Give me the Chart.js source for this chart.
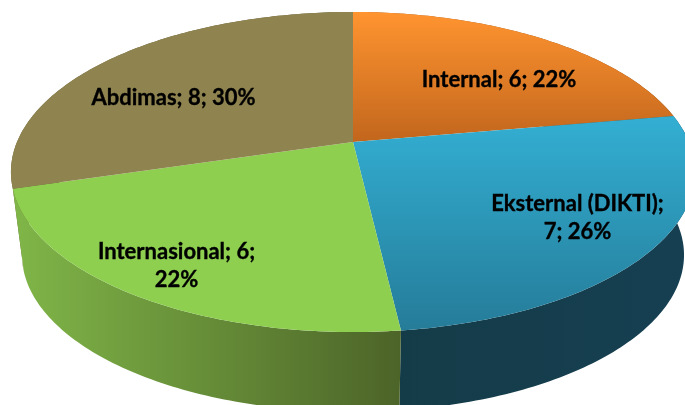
<!DOCTYPE html>
<html>
<head>
<meta charset="utf-8">
<style>html,body{margin:0;padding:0;background:#fff;overflow:hidden}canvas{display:block}</style>
<script src="https://cdn.jsdelivr.net/npm/chart.js@4"></script>
</head>
<body>
<canvas id="c" width="685" height="405"></canvas>
<script>
const categories = ["Internal", "Eksternal (DIKTI)", "Internasional", "Abdimas"];
const values = [6, 7, 6, 8];
const topStops = [["#ff9430", "#c2661d"], ["#33afd3", "#257c99"], ["#8ecf50", "#8ecf50"], ["#8f8450", "#8f8450"]];
const wallStops = [["#a8602a", "#7a4415"], ["#143c48", "#163f52"], ["#80b648", "#4c6428"], ["#6a6138", "#5d5530"]];
const labelBreaks = [null, "; ", "; ", null];   // where a label wraps onto a second line
const labelAnchors = [[499, 80], [577.5, 218], [176.5, 266], [173.5, 98]];

// perspective view of the disc
const view = {x0: 353, y0: 142, a: 336, b: 154.4, k: 0.1875, bottomY: 225.6, sx: 0.9677, sy: 0.98};

function rim(el, ang, bottom) {
  const u = Math.cos(ang), v = Math.sin(ang), w = 1 - view.k * v;
  const sx = bottom ? view.sx : 1, sy = bottom ? view.sy : 1, y0 = bottom ? view.bottomY : view.y0;
  return [view.x0 + view.a * sx * u / w, y0 + view.b * sy * v / w];
}
function samples(el) {
  const n = Math.max(8, Math.ceil((el.endAngle - el.startAngle) * 60)), out = [];
  for (let i = 0; i <= n; i++) out.push(el.startAngle + (el.endAngle - el.startAngle) * i / n);
  return out;
}
function xRange(pts) { const xs = pts.map(p => p[0]); return [Math.min(...xs), Math.max(...xs)]; }
function yRange(pts) { const ys = pts.map(p => p[1]); return [Math.min(...ys), Math.max(...ys)]; }

const pie3d = {
  id: "pie3d",
  beforeDatasetDraw(chart, args) {
    const ctx = chart.ctx, arcs = args.meta.data;
    // side walls, back slices first
    [3, 0, 1, 2].forEach(i => {
      const angs = samples(arcs[i]);
      const pts = angs.map(a => rim(arcs[i], a, false)).concat(angs.slice().reverse().map(a => rim(arcs[i], a, true)));
      const [x1, x2] = xRange(pts);
      const g = ctx.createLinearGradient(x1, 0, x2, 0);
      g.addColorStop(0, wallStops[i][0]); g.addColorStop(1, wallStops[i][1]);
      ctx.beginPath(); pts.forEach((p, j) => j ? ctx.lineTo(p[0], p[1]) : ctx.moveTo(p[0], p[1])); ctx.closePath();
      ctx.fillStyle = g; ctx.fill();
    });
    // top faces
    arcs.forEach((el, i) => {
      const pts = samples(el).map(a => rim(el, a, false));
      pts.push([view.x0, view.y0]);
      const [y1, y2] = yRange(pts);
      const g = ctx.createLinearGradient(0, y1, 0, y2);
      g.addColorStop(0, topStops[i][0]); g.addColorStop(1, topStops[i][1]);
      ctx.beginPath(); pts.forEach((p, j) => j ? ctx.lineTo(p[0], p[1]) : ctx.moveTo(p[0], p[1])); ctx.closePath();
      ctx.fillStyle = g; ctx.fill();
    });
    return false;
  },
  afterDatasetsDraw(chart) {
    const ctx = chart.ctx, total = values.reduce((s, v) => s + v, 0);
    ctx.save();
    ctx.font = "bold 22px Lato, 'Open Sans', sans-serif";
    ctx.fillStyle = "#000"; ctx.strokeStyle = "#000"; ctx.lineWidth = 0.35;
    ctx.textAlign = "center"; ctx.textBaseline = "middle";
    categories.forEach((c, i) => {
      const pct = Math.round(values[i] / total * 100) + "%";
      const lines = labelBreaks[i] === null ? [`${c}; ${values[i]}; ${pct}`]
        : i === 1 ? [`${c};`, `${values[i]}; ${pct}`] : [`${c}; ${values[i]};`, pct];
      const [x, y] = labelAnchors[i];
      lines.forEach((t, j) => {
        const ly = y + (j - (lines.length - 1) / 2) * 28;
        ctx.fillText(t, x, ly); ctx.strokeText(t, x, ly);
      });
    });
    ctx.restore();
  }
};

new Chart(document.getElementById("c"), {
  type: "pie",
  data: {labels: categories, datasets: [{data: values, backgroundColor: topStops.map(s => s[0]), borderWidth: 0}]},
  options: {
    responsive: false, animation: false,
    plugins: {legend: {display: false}, tooltip: {enabled: false}}
  },
  plugins: [pie3d]
});
</script>
</body>
</html>
